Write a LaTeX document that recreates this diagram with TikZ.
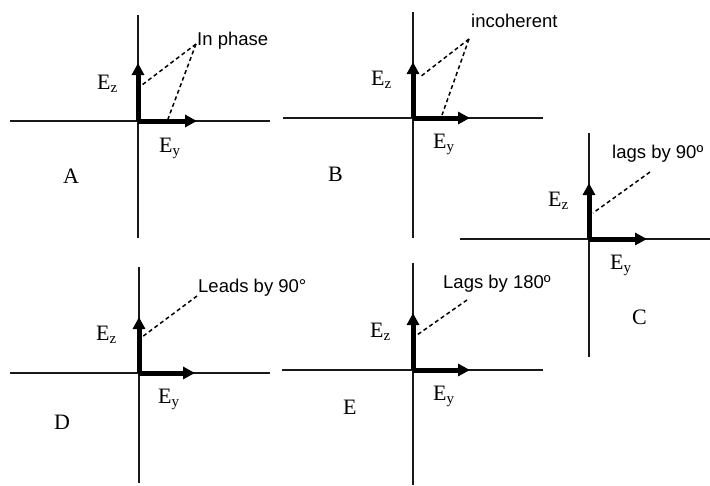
\documentclass[tikz,border=0pt]{standalone}
\usepackage{fontspec}
\setmainfont{Liberation Serif}
\newfontfamily\annfont{Liberation Sans}
\usetikzlibrary{arrows.meta}
\newcommand{\sublab}[1]{E\raisebox{-0.3ex}{\fontsize{15}{15}\selectfont #1}}
\tikzset{
  axis/.style={line width=1.8pt, black!90},
  vec/.style={line width=5pt, -{Triangle[length=12pt,width=12pt]}},
  lead/.style={dashed, dash pattern=on 4pt off 3pt, line width=1.5pt},
  lab/.style={anchor=base west, inner sep=0pt, font=\fontsize{22}{22}\selectfont},
  ann/.style={anchor=base west, inner sep=0pt, font=\annfont\fontsize{18.5}{18.5}\selectfont},
}
\begin{document}
\begin{tikzpicture}[x=1pt,y=-1pt]
\useasboundingbox (0,0) rectangle (710,485);
% ---------- Panel A ----------
\coordinate (Ah1) at (10,121); \coordinate (Ah2) at (270,121);
\coordinate (Av1) at (138,15); \coordinate (Av2) at (138,238);
\coordinate (AO) at (138,121);
\coordinate (Az) at (138,63); \coordinate (Ay) at (197,121);
\draw[axis] (Ah1) -- (Ah2);
\draw[axis] (Av1) -- (Av2);
\draw[vec] (AO) -- (Az);
\draw[vec] (AO) -- (Ay);
\node[ann] (Aann) at (197,45) {In phase};
\coordinate (Aap) at (196,44);
\coordinate (Aez) at (142,85); \coordinate (Aey) at (168,119);
\draw[lead] (Aap) -- (Aez);
\draw[lead] (Aap) -- (Aey);
\node[lab] (AEz) at (97,89) {\sublab{z}};
\node[lab] (AEy) at (159,152) {\sublab{y}};
\node[lab] (Alab) at (63,183) {A};
% ---------- Panel B ----------
\coordinate (Bh1) at (283,118); \coordinate (Bh2) at (543,118);
\coordinate (Bv1) at (413,12); \coordinate (Bv2) at (413,238);
\coordinate (BO) at (413,118);
\coordinate (Bz) at (413,62); \coordinate (By) at (470,118);
\draw[axis] (Bh1) -- (Bh2);
\draw[axis] (Bv1) -- (Bv2);
\draw[vec] (BO) -- (Bz);
\draw[vec] (BO) -- (By);
\node[ann] (Bann) at (471,27) {incoherent};
\coordinate (Bap) at (469,39);
\coordinate (Bez) at (420,77); \coordinate (Bey) at (442,115);
\draw[lead] (Bap) -- (Bez);
\draw[lead] (Bap) -- (Bey);
\node[lab] (BEz) at (371,85) {\sublab{z}};
\node[lab] (BEy) at (433,148) {\sublab{y}};
\node[lab] (Blab) at (328,181) {B};
% ---------- Panel C ----------
\coordinate (Ch1) at (460,239); \coordinate (Ch2) at (710,239);
\coordinate (Cv1) at (589,133); \coordinate (Cv2) at (589,357);
\coordinate (CO) at (589,239);
\coordinate (Cz) at (589,183); \coordinate (Cy) at (647,239);
\draw[axis] (Ch1) -- (Ch2);
\draw[axis] (Cv1) -- (Cv2);
\draw[vec] (CO) -- (Cz);
\draw[vec] (CO) -- (Cy);
\node[ann] (Cann) at (612,158) {lags by 90º};
\coordinate (Cap) at (650,172);
\coordinate (Cez) at (593,213);
\draw[lead] (Cap) -- (Cez);
\node[lab] (CEz) at (548,206) {\sublab{z}};
\node[lab] (CEy) at (610,269) {\sublab{y}};
\node[lab] (Clab) at (632,324) {C};
% ---------- Panel D ----------
\coordinate (Dh1) at (10,373); \coordinate (Dh2) at (270,373);
\coordinate (Dv1) at (139,267); \coordinate (Dv2) at (139,483);
\coordinate (DO) at (139,373);
\coordinate (Dz) at (139,317); \coordinate (Dy) at (195,373);
\draw[axis] (Dh1) -- (Dh2);
\draw[axis] (Dv1) -- (Dv2);
\draw[vec] (DO) -- (Dz);
\draw[vec] (DO) -- (Dy);
\node[ann] (Dann) at (198,292) {Leads by 90°};
\coordinate (Dap) at (197,296);
\coordinate (Dez) at (142,337);
\draw[lead] (Dap) -- (Dez);
\node[lab] (DEz) at (96,340) {\sublab{z}};
\node[lab] (DEy) at (158,403) {\sublab{y}};
\node[lab] (Dlab) at (54,429) {D};
% ---------- Panel E ----------
\coordinate (Eh1) at (282,370); \coordinate (Eh2) at (543,370);
\coordinate (Ev1) at (413,263); \coordinate (Ev2) at (413,485);
\coordinate (EO) at (413,370);
\coordinate (Ez) at (413,313); \coordinate (Ey) at (470,370);
\draw[axis] (Eh1) -- (Eh2);
\draw[axis] (Ev1) -- (Ev2);
\draw[vec] (EO) -- (Ez);
\draw[vec] (EO) -- (Ey);
\node[ann] (Eann) at (443,288) {Lags by 180º};
\coordinate (Eap) at (467,300);
\coordinate (Eez) at (417,335);
\draw[lead] (Eap) -- (Eez);
\node[lab] (EEz) at (370,337) {\sublab{z}};
\node[lab] (EEy) at (433,400) {\sublab{y}};
\node[lab] (Elab) at (343,414) {E};
\end{tikzpicture}
\end{document}
